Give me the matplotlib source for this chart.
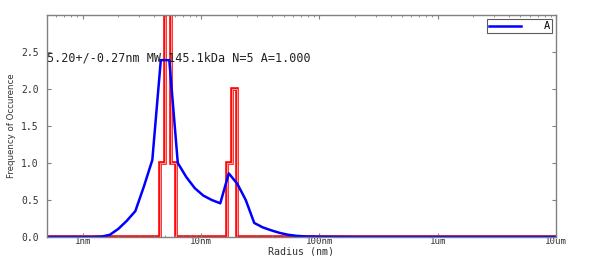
#!/usr/bin/env python3

import numpy as np
import matplotlib
matplotlib.use('Agg')
import matplotlib.pyplot as plt
import matplotlib.patheffects as pe
from matplotlib.ticker import FixedLocator, FixedFormatter, LogLocator, NullFormatter

# blue distribution curve (radius in nm, frequency)
radius = [0.5, 0.877, 1.035, 1.221, 1.440, 1.699, 2.004, 2.364, 2.789, 3.290,
          3.88, 4.577, 5.400, 6.370, 7.515, 8.866, 10.46, 12.34, 14.56,
          17.17, 20.26, 23.90, 28.19, 33.26, 39.24, 46.29, 54.61, 64.42,
          76.00, 89.66, 200.0, 1000.0, 10000.0]
freq = [0.0, 0.0, 0.0, 0.0, 0.005, 0.03, 0.11, 0.22, 0.35, 0.68,
        1.04, 2.39, 2.39, 1.0, 0.81, 0.66, 0.56, 0.50, 0.455,
        0.86, 0.72, 0.50, 0.19, 0.13, 0.09, 0.055, 0.03, 0.015,
        0.008, 0.004, 0.0, 0.0, 0.0]

# red histogram of individual measurements
hist_edges = [0.5, 4.53, 4.92, 5.53, 6.18, 16.5, 18.2, 20.2, 10000.0]
hist_counts = [0, 1, 4, 1, 0, 1, 2, 0]

x_ticks = [1, 10, 100, 1000, 10000]
x_labels = ['1nm', '10nm', '100nm', '1um', '10um']
y_ticks = [0.0, 0.5, 1.0, 1.5, 2.0, 2.5]

label_text = '5.20+/-0.27nm MW 145.1kDa N=5 A=1.000'

mono = 'DejaVu Sans Mono'


def main():
    fig = plt.figure(figsize=(5.93, 2.56), dpi=100)
    ax = fig.add_axes([47 / 593, 1 - 237 / 256, 509 / 593, 222 / 256])

    ax.stairs(hist_counts, hist_edges, color='#ff9a9a', lw=0.8, baseline=None,
              path_effects=[pe.Stroke(linewidth=2.6, foreground='#ff0000'), pe.Normal()])
    ax.plot(radius, freq, color='#0000ff', lw=1.8, label='A')

    ax.set_xscale('log')
    ax.set_xlim(0.5, 10000)
    ax.set_ylim(0, 3.0)

    ax.xaxis.set_major_locator(FixedLocator(x_ticks))
    ax.xaxis.set_major_formatter(FixedFormatter(x_labels))
    ax.xaxis.set_minor_locator(LogLocator(base=10, subs=np.arange(2, 10)))
    ax.xaxis.set_minor_formatter(NullFormatter())
    ax.set_yticks(y_ticks)
    ax.set_yticklabels(['%.1f' % v for v in y_ticks])

    ax.tick_params(which='both', direction='in', top=True, right=True,
                   colors='#808080', labelcolor='#333333', labelsize=7.0)
    ax.tick_params(which='major', length=3)
    ax.tick_params(which='minor', length=1.5)
    ax.tick_params(axis='x', pad=0, labelsize=6.6)
    ax.tick_params(axis='y', pad=6)
    for lab in ax.get_xticklabels() + ax.get_yticklabels():
        lab.set_family(mono)
    for s in ax.spines.values():
        s.set_color('#808080')
        s.set_linewidth(1.0)

    ax.set_xlabel('Radius (nm)', family=mono, fontsize=7.2, color='#333333')
    ax.xaxis.set_label_coords(0.5, -14 / 222, transform=ax.transAxes)
    ax.xaxis.label.set_va('center')
    ax.set_ylabel('Frequency of Occurence', fontsize=6.2, color='#333333')
    ax.yaxis.set_label_coords(-35 / 509, 0.5)
    ax.yaxis.label.set_va('center')

    ax.text(0.0, 2.42, label_text, transform=ax.get_yaxis_transform(),
            family=mono, fontsize=8.5, color='#222222', ha='left', va='center')

    leg = ax.legend(loc='upper right', frameon=True, fancybox=False,
                    handlelength=3.0, borderaxespad=0.4, borderpad=0.2,
                    prop={'family': mono, 'size': 7.5}, handletextpad=2.2)
    leg.get_frame().set_edgecolor('#333333')
    leg.get_frame().set_linewidth(0.8)

    fig.savefig('out.png', dpi=100)


if __name__ == '__main__':
    main()
